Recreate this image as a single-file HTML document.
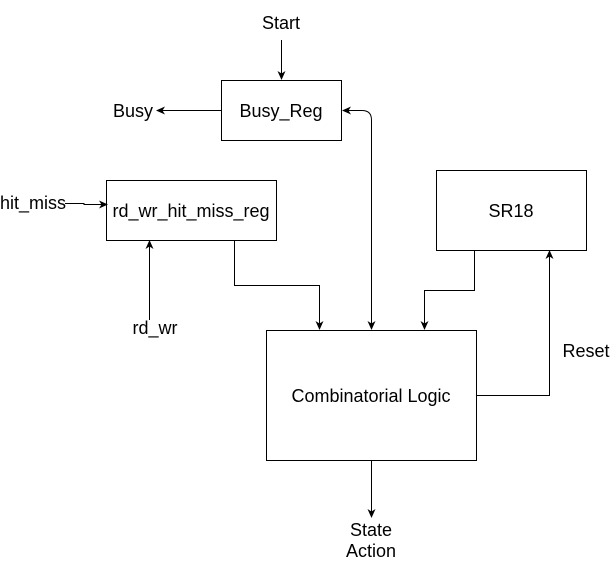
<!DOCTYPE html>
<html><head><style>
body{margin:0;background:#fff;}
svg{display:block;font-family:"Liberation Sans",sans-serif;}
</style></head><body>
<svg width="610" height="561" viewBox="0 0 610 561">
<defs><marker id="a" markerWidth="10" markerHeight="10" refX="8" refY="5" orient="auto" markerUnits="userSpaceOnUse"><path d="M0,1 L9,5 L0,9 L2.5,5 Z" fill="#000"/></marker></defs>
<g fill="none" stroke="#000" stroke-width="1">
<rect x="221.5" y="80.5" width="120" height="60"/>
<rect x="106.5" y="180.5" width="170" height="60"/>
<rect x="436.5" y="170.5" width="150" height="80"/>
<rect x="266.5" y="330.5" width="210" height="130"/>
<path d="M281.5 40 V79" marker-end="url(#a)"/>
<path d="M221 110.5 H157" marker-end="url(#a)"/>
<path d="M65 203.5 H84 V204.5 H107" marker-end="url(#a)"/>
<path d="M149.5 320 V241" marker-end="url(#a)"/>
<path d="M234.5 241 V285.5 H319.5 V329" marker-end="url(#a)"/>
<path d="M371.5 120 Q371.5 110.5 362 110.5 H343" marker-end="url(#a)"/>
<path d="M371.5 120 V329" marker-end="url(#a)"/>
<path d="M474.5 251 V290.5 H424.5 V329" marker-end="url(#a)"/>
<path d="M477 395.5 H549.5 V251" marker-end="url(#a)"/>
<path d="M371.5 461 V517" marker-end="url(#a)"/>
</g>
<g font-size="18" fill="#000" text-anchor="middle">
<text x="281" y="29">Start</text>
<text x="133" y="117">Busy</text>
<text x="281" y="117">Busy_Reg</text>
<text x="33" y="209">hit_miss</text>
<text x="191" y="217">rd_wr_hit_miss_reg</text>
<text x="511" y="217">SR18</text>
<text x="155" y="334">rd_wr</text>
<text x="586" y="357">Reset</text>
<text x="371" y="402">Combinatorial Logic</text>
<text x="371" y="536">State</text>
<text x="371" y="557">Action</text>
</g>
</svg>
</body></html>
